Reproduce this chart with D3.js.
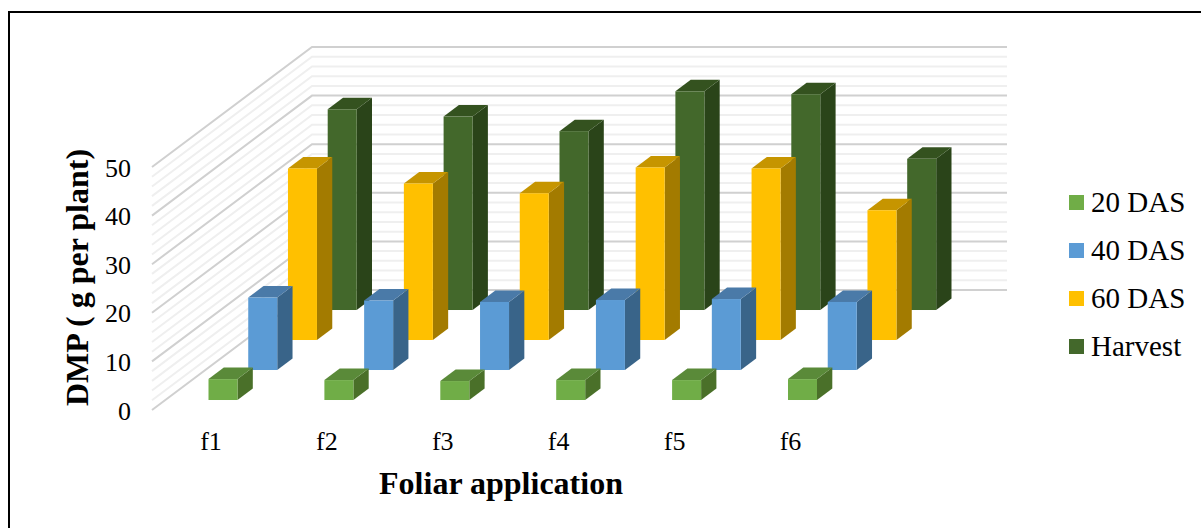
<!DOCTYPE html>
<html>
<head>
<meta charset="utf-8">
<script src="https://cdnjs.cloudflare.com/ajax/libs/d3/7.8.5/d3.min.js"></script>
<style>
html, body { margin: 0; padding: 0; background: #fff; }
svg { display: block; }
text { font-family: "Liberation Serif", serif; fill: #000; }
.tick-label { font-size: 26px; }
.legend-label { font-size: 29px; }
.axis-title { font-size: 32px; font-weight: bold; }
</style>
</head>
<body>
<div id="chart"></div>
<script>
// values
var categories = ["f1", "f2", "f3", "f4", "f5", "f6"];
var seriesNames = ["20 DAS", "40 DAS", "60 DAS", "Harvest"];
var das20 = [4.3, 4.1, 3.9, 4.1, 4.1, 4.3];
var das40 = [14.9, 14.3, 14.0, 14.4, 14.6, 14.0];
var das60 = [35.3, 32.2, 30.2, 35.5, 35.3, 26.7];
var harvest = [41.3, 39.8, 36.8, 45.0, 44.4, 31.1];
var yTicks = [0, 10, 20, 30, 40, 50];
var minorTicks = d3.range(0, 51, 2);

var seriesValues = [das20, das40, das60, harvest];
var frontColors = ["#70ad47", "#5b9bd5", "#ffc000", "#43682b"];
var topColors = ["#5a8a39", "#4a7aa8", "#c69500", "#34521f"];
var sideColors = ["#4a7029", "#396489", "#a37b00", "#2a4419"];

var width = 1201, height = 528;

var svg = d3.select("#chart").append("svg")
    .attr("width", width)
    .attr("height", height);

// frame, only left and top show in the picture
svg.append("path")
    .attr("d", "M9,528V12H1201")
    .attr("fill", "none")
    .attr("stroke", "#000")
    .attr("stroke-width", 2);

// scales: value goes up, depth goes back along the side wall
var y = d3.scaleLinear().domain([0, 50]).range([410, 167]);
var depth = d3.scaleLinear().domain([0, 1]).range([0, 160]);
var depthY = d3.scaleLinear().domain([0, 1]).range([0, -120]);
var wallRight = 1007;

// depth fraction of each series, front of the bar
var seriesDepth = d3.scalePoint().domain(seriesNames).range([0.0833, 0.8333]);
var seriesShift = d3.scalePoint().domain(seriesNames).range([0, 119.2]);
var catX = d3.scalePoint().domain(categories).range([208.5, 788]);

var barW = 29, barDx = 15.3, barDy = -11.5;

// gridlines on the walls
var gridG = svg.append("g");
minorTicks.forEach(function(t){
    var major = t % 10 === 0;
    gridG.append("path")
        .attr("d", d3.line()([
            [152, y(t)],
            [152 + depth(1), y(t) + depthY(1)],
            [wallRight, y(t) + depthY(1)]
        ]))
        .attr("fill", "none")
        .attr("stroke", major ? "#d0d0d0" : "#efefef")
        .attr("stroke-width", 2);
});

// bars, back series first
var barsG = svg.append("g");
d3.range(seriesNames.length - 1, -1, -1).forEach(function(s){
    var name = seriesNames[s];
    var f = seriesDepth(name);
    categories.forEach(function(c, i){
        var v = seriesValues[s][i];
        var x0 = catX(c) + seriesShift(name);
        var base = y(0) + depthY(f);
        var top = y(v) + depthY(f);
        var g = barsG.append("g");
        g.append("polygon")
            .attr("points", [[x0 + barW, base], [x0 + barW + barDx, base + barDy], [x0 + barW + barDx, top + barDy], [x0 + barW, top]].join(" "))
            .attr("fill", sideColors[s]);
        g.append("polygon")
            .attr("points", [[x0, top], [x0 + barW, top], [x0 + barW + barDx, top + barDy], [x0 + barDx, top + barDy]].join(" "))
            .attr("fill", topColors[s]);
        g.append("rect")
            .attr("x", x0)
            .attr("y", top)
            .attr("width", barW)
            .attr("height", base - top)
            .attr("fill", frontColors[s]);
    });
});

// y tick labels
svg.selectAll("text.ytick")
    .data(yTicks)
    .enter().append("text")
    .attr("class", "tick-label ytick")
    .attr("x", 131)
    .attr("y", function(d){ return y(d) + 9.5; })
    .attr("text-anchor", "end")
    .text(function(d){ return d; });

// category labels
svg.selectAll("text.xtick")
    .data(categories)
    .enter().append("text")
    .attr("class", "tick-label xtick")
    .attr("x", function(d){ return catX(d) + 2.5; })
    .attr("y", 450)
    .attr("text-anchor", "middle")
    .text(function(d){ return d; });

// axis titles
svg.append("text")
    .attr("class", "axis-title")
    .attr("x", 501)
    .attr("y", 494)
    .attr("text-anchor", "middle")
    .text("Foliar application");

svg.append("text")
    .attr("class", "axis-title")
    .attr("transform", "translate(88,277.5) rotate(-90)")
    .attr("text-anchor", "middle")
    .text("DMP ( g per plant)");

// legend
var legend = svg.selectAll("g.legend")
    .data(seriesNames)
    .enter().append("g")
    .attr("class", "legend")
    .attr("transform", function(d, i){ return "translate(1069," + (195 + i * 48) + ")"; });

legend.append("rect")
    .attr("width", 15)
    .attr("height", 15)
    .attr("fill", function(d, i){ return frontColors[i]; });

legend.append("text")
    .attr("class", "legend-label")
    .attr("x", 22)
    .attr("y", 17)
    .text(function(d){ return d; });
</script>
</body>
</html>
